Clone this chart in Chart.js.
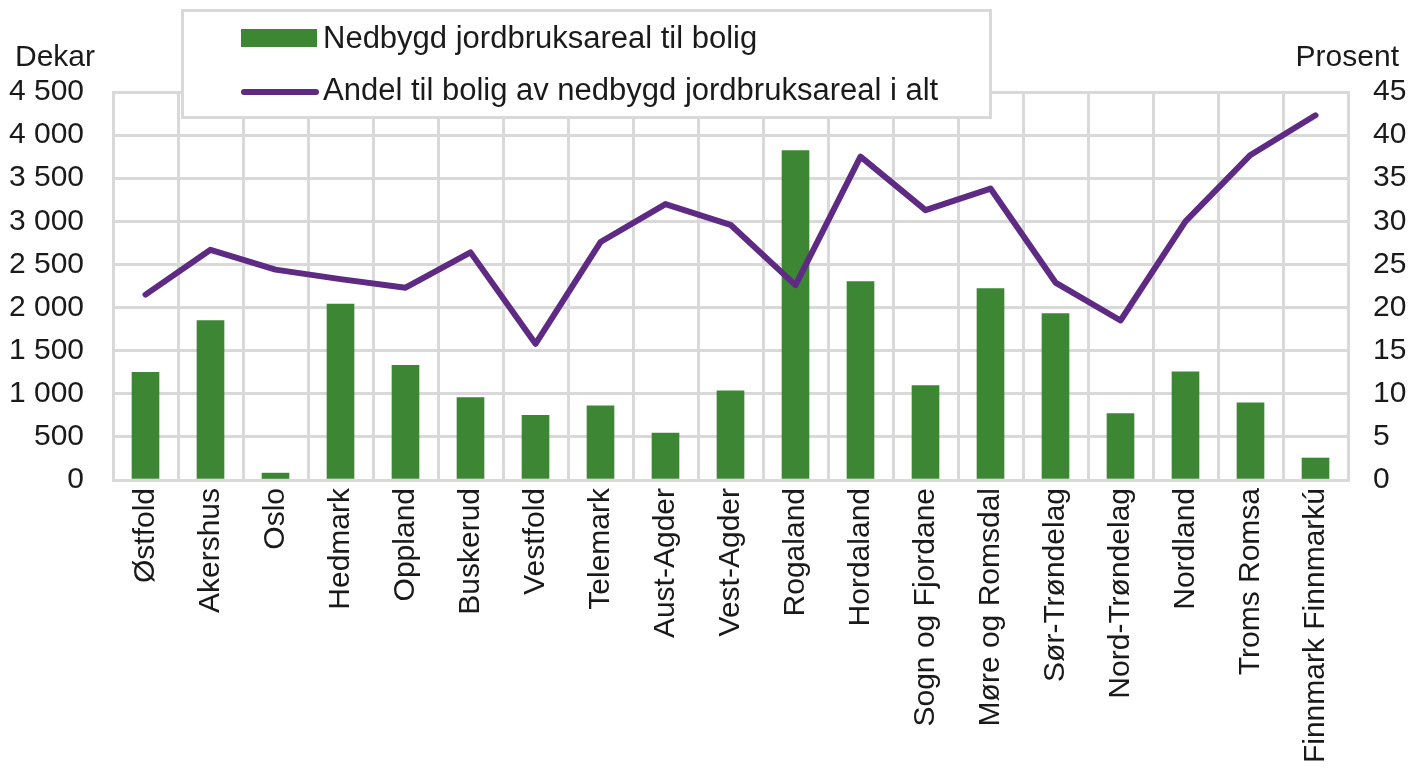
<!DOCTYPE html>
<html lang="no">
<head>
    <meta charset="UTF-8">
    <title>Nedbygd jordbruksareal til bolig</title>
    <script src="https://cdn.jsdelivr.net/npm/chart.js"></script>
    <style>
        body {
            margin: 0;
            padding: 0;
            background: #ffffff;
        }
        .chart-box {
            width: 1410px;
            height: 768px;
            position: relative;
        }
    </style>
</head>
<body>
    <div class="chart-box">
        <canvas id="boligChart"></canvas>
    </div>

    <script>
        // data
        const fylker = ['Østfold', 'Akershus', 'Oslo', 'Hedmark', 'Oppland', 'Buskerud', 'Vestfold',
            'Telemark', 'Aust-Agder', 'Vest-Agder', 'Rogaland', 'Hordaland', 'Sogn og Fjordane',
            'Møre og Romsdal', 'Sør-Trøndelag', 'Nord-Trøndelag', 'Nordland', 'Troms Romsa',
            'Finnmark Finnmarkú'];
        const boligDekar = [1250, 1850, 80, 2040, 1330, 955, 750, 860, 545, 1035,
            3820, 2300, 1095, 2220, 1930, 770, 1255, 895, 255];
        const andelProsent = [21.5, 26.7, 24.4, 23.3, 22.3, 26.4, 15.8, 27.6, 32.0, 29.6,
            22.6, 37.5, 31.3, 33.8, 22.9, 18.5, 30.0, 37.7, 42.3];
        const dekarMax = 4500, dekarStep = 500;
        const prosentMax = 45, prosentStep = 5;

        const legendLabels = ['Nedbygd jordbruksareal til bolig', 'Andel til bolig av nedbygd jordbruksareal i alt'];

        const green = '#3d8734';
        const purple = '#5e2a84';
        const gridGrey = '#d9d9d9';
        const textColor = '#1a1a1a';
        const fontFamily = '"Liberation Sans", Arial, sans-serif';

        function spaceThousands(v) {
            if (v < 1000) return String(v);
            return Math.floor(v / 1000) + ' ' + String(v % 1000).padStart(3, '0');
        }

        // legend box and the two unit labels
        const extrasPlugin = {
            id: 'extras',
            afterDraw(chart) {
                const ctx = chart.ctx;
                ctx.save();
                ctx.fillStyle = '#ffffff';
                ctx.fillRect(182, 10, 808, 107);
                ctx.strokeStyle = gridGrey;
                ctx.lineWidth = 3;
                ctx.strokeRect(182.5, 10.5, 808, 107);

                ctx.fillStyle = green;
                ctx.fillRect(241, 29, 76, 18);

                ctx.strokeStyle = purple;
                ctx.lineWidth = 6;
                ctx.lineCap = 'round';
                ctx.beginPath();
                ctx.moveTo(244, 92);
                ctx.lineTo(316, 92);
                ctx.stroke();

                ctx.fillStyle = textColor;
                ctx.font = '31px ' + fontFamily;
                ctx.textBaseline = 'middle';
                ctx.textAlign = 'left';
                ctx.fillText(legendLabels[0], 323, 39);
                ctx.fillText(legendLabels[1], 323, 91);

                ctx.font = '30px ' + fontFamily;
                ctx.fillText('Dekar', 15, 58);
                ctx.textAlign = 'right';
                ctx.fillText('Prosent', 1399, 58);
                ctx.restore();
            }
        };

        const tickFont = { family: fontFamily, size: 30 };

        new Chart(document.getElementById('boligChart'), {
            type: 'bar',
            data: {
                labels: fylker,
                datasets: [
                    {
                        type: 'line',
                        label: legendLabels[1],
                        data: andelProsent,
                        yAxisID: 'y1',
                        borderColor: purple,
                        borderWidth: 6,
                        borderJoinStyle: 'round',
                        borderCapStyle: 'round',
                        pointRadius: 0,
                        tension: 0,
                        fill: false,
                        order: 0
                    },
                    {
                        type: 'bar',
                        label: legendLabels[0],
                        data: boligDekar,
                        yAxisID: 'y',
                        backgroundColor: green,
                        barThickness: 27,
                        order: 1
                    }
                ]
            },
            options: {
                responsive: true,
                maintainAspectRatio: false,
                animation: false,
                layout: { padding: { top: 92 } },
                plugins: {
                    legend: { display: false },
                    tooltip: { enabled: false }
                },
                scales: {
                    x: {
                        grid: { color: gridGrey, lineWidth: 3, offset: true, drawTicks: false },
                        border: { color: gridGrey, width: 3 },
                        ticks: {
                            color: textColor,
                            font: tickFont,
                            minRotation: 90,
                            maxRotation: 90,
                            autoSkip: false,
                            padding: 8
                        },
                        afterFit(scale) { scale.height = 288; }
                    },
                    y: {
                        position: 'left',
                        min: 0,
                        max: dekarMax,
                        grid: { color: gridGrey, lineWidth: 3, drawTicks: false },
                        border: { color: gridGrey, width: 3 },
                        ticks: {
                            stepSize: dekarStep,
                            color: textColor,
                            font: tickFont,
                            padding: 29,
                            callback: v => spaceThousands(v)
                        },
                        afterFit(scale) { scale.width = 113; }
                    },
                    y1: {
                        position: 'right',
                        min: 0,
                        max: prosentMax,
                        grid: { display: false, drawTicks: false },
                        border: { color: gridGrey, width: 3 },
                        ticks: {
                            stepSize: prosentStep,
                            color: textColor,
                            font: tickFont,
                            padding: 25
                        },
                        afterFit(scale) { scale.width = 62; }
                    }
                }
            },
            plugins: [extrasPlugin]
        });
    </script>
</body>
</html>
